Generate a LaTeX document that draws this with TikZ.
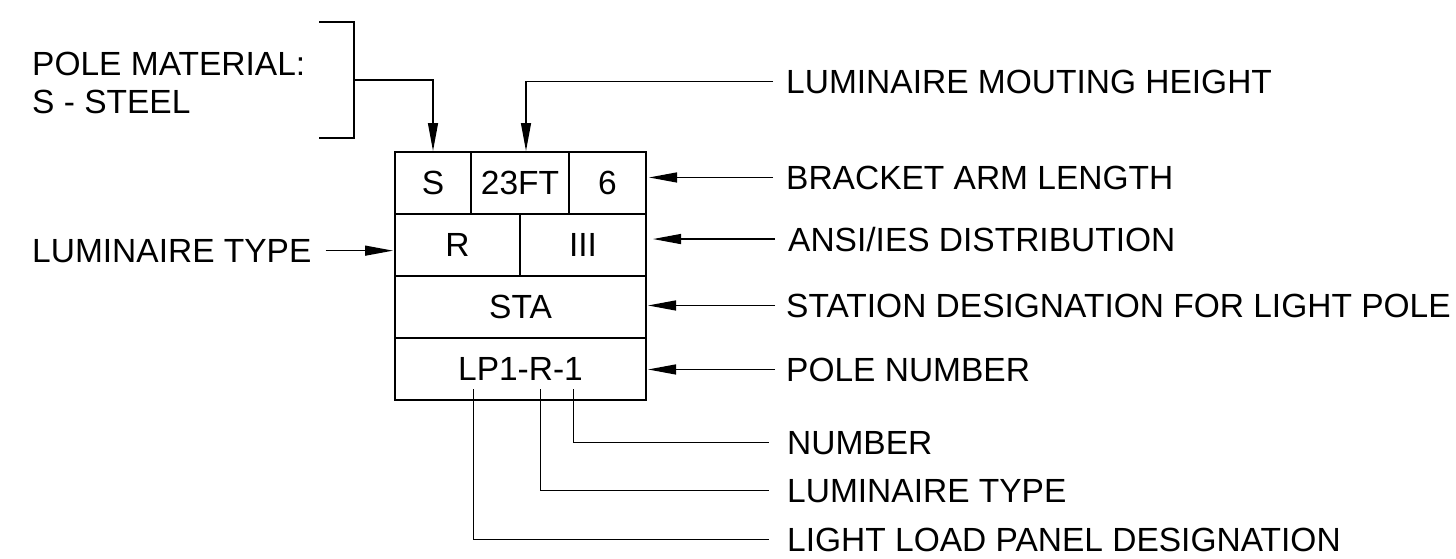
\documentclass[tikz,border=0pt]{standalone}
\usepackage{fontspec}
\setmainfont{Liberation Sans}
\usetikzlibrary{positioning,arrows.meta}

\begin{document}
\begin{tikzpicture}[
        x=1pt, y=-1pt,
        every node/.style={font=\fontsize{33.5}{36}\selectfont},
        cell/.style={rectangle, draw, line width=2.8pt, inner sep=0pt, outer sep=0pt, minimum height=62pt},
        label/.style={inner sep=0pt, anchor=base west},
        lead/.style={line width=1.3pt},
        pointer/.style={line width=1.3pt, -{Triangle[length=28pt,width=10pt]}}
    ]
    \useasboundingbox (0,0) rectangle (1456,558);

    % Pole tag
    \node[cell, minimum width=76pt, anchor=north west] (cS) at (395,152) {S};
    \node[cell, minimum width=98pt, right=0pt of cS] (cHt) {23FT};
    \node[cell, minimum width=77pt, right=0pt of cHt] (cArm) {6};
    \node[cell, minimum width=125pt, anchor=north west] (cR) at (cS.south west) {R};
    \node[cell, minimum width=126pt, right=0pt of cR] (cIII) {III};
    \node[cell, minimum width=251pt, anchor=north west] (cSta) at (cR.south west) {STA};
    \node[cell, minimum width=251pt, anchor=north west] (cNum) at (cSta.south west) {LP1-R-1};

    % Left side labels
    \node[label] (lblMat) at (32,75) {POLE MATERIAL:};
    \node[label] (lblSteel) at (32,113) {S - STEEL};
    \node[label] (lblLum) at (32,262) {LUMINAIRE TYPE};

    % Right side labels
    \node[label] (lblHt) at (786,93) {LUMINAIRE MOUTING HEIGHT};
    \node[label] (lblArm) at (786,189) {BRACKET ARM LENGTH};
    \node[label] (lblDist) at (788,251) {ANSI/IES DISTRIBUTION};
    \node[label] (lblSta) at (786,317) {STATION DESIGNATION FOR LIGHT POLE};
    \node[label] (lblPole) at (786,381) {POLE NUMBER};

    % Bottom labels
    \node[label] (lblNo) at (787,454) {NUMBER};
    \node[label] (lblType) at (787,502) {LUMINAIRE TYPE};
    \node[label] (lblPanel) at (787,551) {LIGHT LOAD PANEL DESIGNATION};

    % Bracket
    \draw[lead] (319,22) -| (354,138) -- (319,138);
    \coordinate (brk) at (354,80);

    % Arrows
    \draw[pointer] (brk) -| ([yshift=1pt]cS.north);
    \draw[pointer] ([xshift=-13pt]lblHt.west) -| ([xshift=6pt,yshift=1pt]cHt.north);
    \draw[pointer] ([xshift=-13pt]lblArm.west) -- ([xshift=3pt]cArm.east |- lblArm.west);
    \draw[pointer] ([xshift=-13pt]lblDist.west) -- ([xshift=7pt]cIII.east |- lblDist.west);
    \draw[pointer] ([xshift=-11pt]lblSta.west) -- ([xshift=2pt]cSta.east |- lblSta.west);
    \draw[pointer] ([xshift=-11pt]lblPole.west) -- ([xshift=2pt]cNum.east |- lblPole.west);
    \draw[pointer] ([xshift=14pt]lblLum.east) -- ([xshift=-2pt]cR.west |- lblLum.east);

    % Leaders from pole number
    \draw[lead] ([shift={(-47pt,-20pt)}]cNum.center) |- ([xshift=-18pt]lblPanel.west);
    \draw[lead] ([shift={(20pt,-20pt)}]cNum.center) |- ([xshift=-18pt]lblType.west);
    \draw[lead] ([shift={(53pt,-20pt)}]cNum.center) |- ([xshift=-18pt]lblNo.west);

\end{tikzpicture}
\end{document}
